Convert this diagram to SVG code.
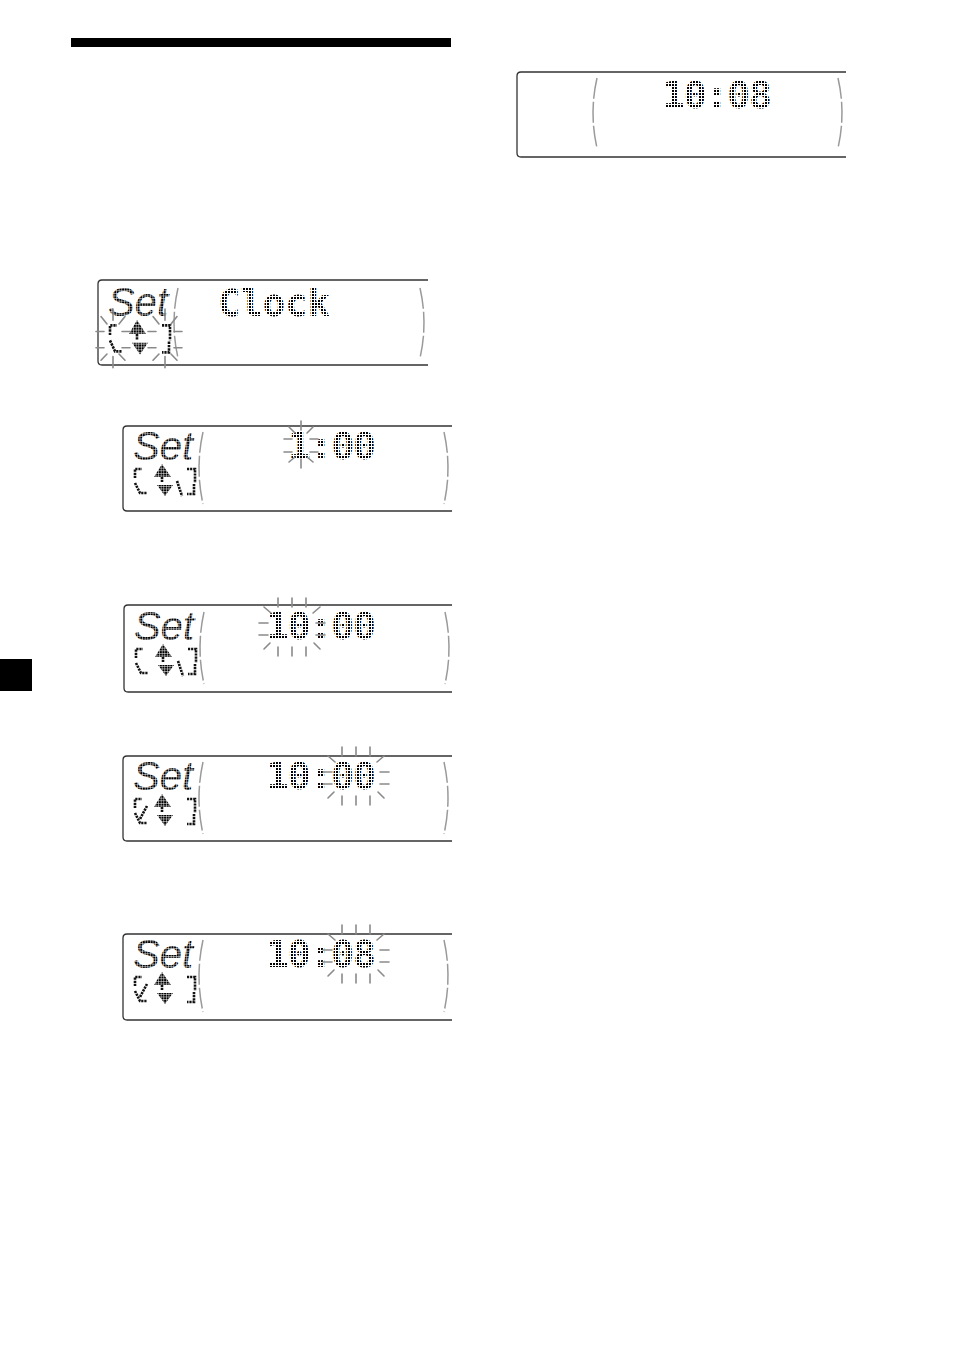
<svg xmlns="http://www.w3.org/2000/svg" width="954" height="1351" viewBox="0 0 954 1351">
<defs>
<style>
.box{fill:none;stroke:#333;stroke-width:1.3}
.arc{fill:none;stroke:#9a9a9a;stroke-width:1.5;stroke-dasharray:21 3}
.set{font-family:"Liberation Sans",sans-serif;font-style:italic;font-size:40px;fill:url(#lcdS)}
.dig{font-family:"DejaVu Sans Mono",monospace;font-weight:bold;font-size:38px;fill:url(#lcd)}
.ray{fill:none;stroke:#8a8a8a;stroke-width:1.6;stroke-linecap:round;vector-effect:non-scaling-stroke}
.ic{fill:none;stroke:#111;stroke-width:2.6;stroke-dasharray:2.2 0.9}
.tri{fill:url(#lcdS)}
</style>
<pattern id="lcd" width="3" height="3" patternUnits="userSpaceOnUse">
<rect width="2" height="2" fill="#000"/>
</pattern>
<pattern id="lcdS" width="2.6" height="2.6" patternUnits="userSpaceOnUse">
<rect width="2.1" height="2.1" fill="#000"/>
</pattern>
<g id="icons">
<path class="ic" d="M2 51V42H9"/>
<path class="ic" d="M54 42H62V56"/>
<path class="ic" d="M2 56L7 66H14"/>
<path class="ic" d="M61 57V67H54"/>
<polygon class="tri" points="29,37 21,50 38,50"/>
<path class="ic" d="M29 50V55"/>
<polygon class="tri" points="24,58 40,58 32,69"/>
</g>
<g id="burstN">
<path class="ray" d="M0 -24V-15M-12 -18L-6 -12M12 -18L6 -12M-17 -6H-9M-17 7H-9M9 -6H17M9 7H17M-6 12L-12 17M6 12L12 17M0 14V23"/>
</g>
<g id="burstW">
<path class="ray" d="M-14 -29V-20M0 -29V-20M14 -29V-20M-28 -20L-21 -14M28 -20L21 -14M-33 -4H-24M-33 8H-24M24 -4H33M24 8H33M-22 16L-28 22M22 16L28 22M-14 20V29M0 20V29M14 20V29"/>
</g>
</defs>

<g id="header">
<rect x="71" y="38" width="380" height="9" fill="#000"/>
<rect x="0" y="659" width="32" height="32" fill="#000"/>
</g>

<g id="display1">
<path class="box" d="M428 280H102Q98 280 98 284V361Q98 365 102 365H428"/>
<path class="arc" d="M178 288Q170 323 178 358"/>
<path class="arc" d="M420 288Q428 323 420 358"/>
<text class="set" x="108" y="316">Set</text>
<text class="dig" x="218" y="316" textLength="112" lengthAdjust="spacingAndGlyphs">Clock</text>
<use href="#icons" transform="translate(108 280) scale(1 1.08)"/>
<use href="#burstN" transform="translate(113 339) scale(1 1.25)"/>
<use href="#burstN" transform="translate(165 339) scale(1 1.25)"/>
</g>

<g id="display2">
<path class="box" d="M452 426H127Q123 426 123 430V507Q123 511 127 511H452"/>
<path class="arc" d="M203 432Q195 468 203 504"/>
<path class="arc" d="M444 432Q452 468 444 504"/>
<text class="set" x="133" y="460">Set</text>
<use href="#icons" x="133" y="427"/>
<path class="ic" d="M177 481L182 496"/>
<text class="dig" x="288" y="459" textLength="88" lengthAdjust="spacing">1:00</text>
<use href="#burstN" x="301" y="445"/>
</g>

<g id="display3">
<path class="box" d="M452 605H128Q124 605 124 609V688Q124 692 128 692H452"/>
<path class="arc" d="M204 612Q196 648 204 684"/>
<path class="arc" d="M445 612Q453 648 445 684"/>
<text class="set" x="134" y="640">Set</text>
<use href="#icons" x="134" y="607"/>
<path class="ic" d="M178 661L183 676"/>
<text class="dig" x="266" y="639" textLength="110" lengthAdjust="spacing">10:00</text>
<use href="#burstW" x="292" y="627"/>
</g>

<g id="display4">
<path class="box" d="M452 756H127Q123 756 123 760V837Q123 841 127 841H452"/>
<path class="arc" d="M203 762Q195 798 203 834"/>
<path class="arc" d="M444 762Q452 798 444 834"/>
<text class="set" x="133" y="790">Set</text>
<use href="#icons" x="133" y="757"/>
<path class="ic" d="M147 806L140 819"/>
<text class="dig" x="266" y="789" textLength="110" lengthAdjust="spacing">10:00</text>
<use href="#burstW" x="356" y="776"/>
</g>

<g id="display5">
<path class="box" d="M452 934H127Q123 934 123 938V1016Q123 1020 127 1020H452"/>
<path class="arc" d="M203 940Q195 976 203 1012"/>
<path class="arc" d="M444 940Q452 976 444 1012"/>
<text class="set" x="133" y="968">Set</text>
<use href="#icons" x="133" y="935"/>
<path class="ic" d="M147 984L140 997"/>
<text class="dig" x="266" y="967" textLength="110" lengthAdjust="spacing">10:08</text>
<use href="#burstW" x="356" y="954"/>
</g>

<g id="display6">
<path class="box" d="M846 72H521Q517 72 517 76V153Q517 157 521 157H846"/>
<path class="arc" d="M597 78Q589 113 597 148"/>
<path class="arc" d="M838 78Q846 113 838 148"/>
<text class="dig" x="662" y="108" textLength="110" lengthAdjust="spacing">10:08</text>
</g>
</svg>
